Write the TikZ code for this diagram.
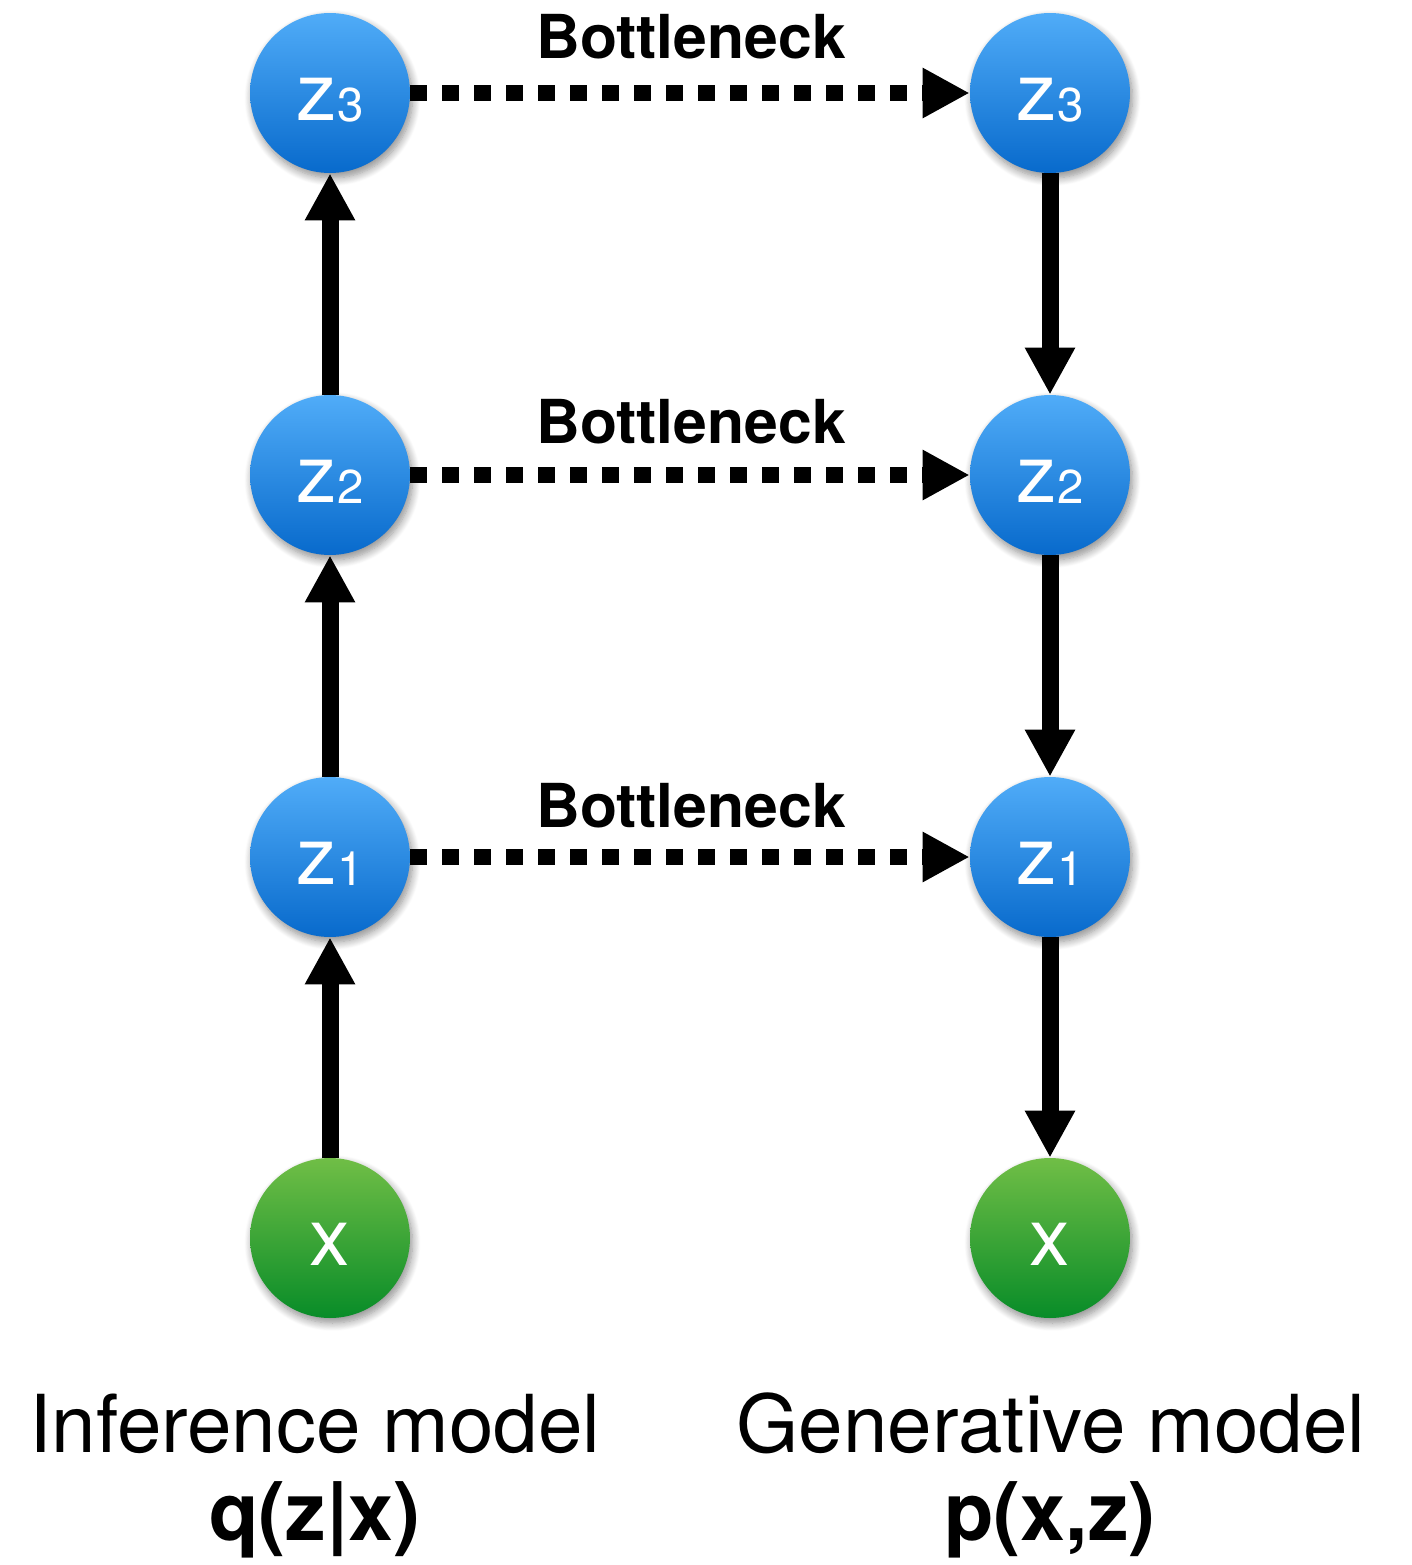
\documentclass[tikz,border=0pt]{standalone}
\usepackage{fontspec}
\setmainfont{TeX Gyre Heros}
\usetikzlibrary{arrows.meta,shadows.blur}

\definecolor{blueTop}{RGB}{80,172,248}
\definecolor{blueBot}{RGB}{8,106,204}
\definecolor{greenTop}{RGB}{112,190,70}
\definecolor{greenBot}{RGB}{8,140,40}

\tikzset{
  ball/.style={circle, minimum size=3.2cm, inner sep=0pt, draw=none,
    blur shadow={shadow xshift=0.05cm, shadow yshift=-0.1cm,
      shadow opacity=45, shadow blur radius=0.16cm, shadow blur steps=10}},
  latent/.style={ball, top color=blueTop, bottom color=blueBot},
  observed/.style={ball, top color=greenTop, bottom color=greenBot},
  balltext/.style={text=white, inner sep=0pt, anchor=base,
    font=\fontsize{46}{50}\selectfont},
  flow/.style={line width=0.34cm, line cap=butt,
    -{Triangle[length=0.94cm, width=0.94cm]}},
  skip/.style={line width=0.31cm, line cap=butt, dash pattern=on 0.34cm off 0.30cm,
    -{Triangle[length=0.94cm, width=0.94cm]}},
  neck/.style={inner sep=0pt, anchor=base west,
    font=\fontsize{34.5}{38}\selectfont\bfseries},
  caption/.style={inner sep=0pt, anchor=base,
    font=\fontsize{45.5}{50}\selectfont},
  formula/.style={inner sep=0pt, anchor=base,
    font=\fontsize{46}{50}\selectfont\bfseries},
}
\newcommand{\zsub}[1]{z\raisebox{-1pt}{\fontsize{27}{30}\selectfont #1}}

\begin{document}
\begin{tikzpicture}[x=0.02cm, y=-0.02cm]
  \useasboundingbox (0,0) rectangle (1411,1565);

  % inference column
  \node[latent]   (qz3) at (330,93)   {};
  \node[latent]   (qz2) at (330,475)  {};
  \node[latent]   (qz1) at (330,857)  {};
  \node[observed] (qx)  at (330,1238) {};
  % generative column
  \node[latent]   (pz3) at (1050,93)   {};
  \node[latent]   (pz2) at (1050,475)  {};
  \node[latent]   (pz1) at (1050,857)  {};
  \node[observed] (px)  at (1050,1238) {};

  % labels inside the circles
  \node[balltext] (tqz3) at (330,120)  {\zsub{3}};
  \node[balltext] (tqz2) at (330,502)  {\zsub{2}};
  \node[balltext] (tqz1) at (330,884)  {\zsub{1}};
  \node[balltext] (tqx)  at (330,1265) {x};
  \node[balltext] (tpz3) at (1050,120)  {\zsub{3}};
  \node[balltext] (tpz2) at (1050,502)  {\zsub{2}};
  \node[balltext] (tpz1) at (1050,884)  {\zsub{1}};
  \node[balltext] (tpx)  at (1050,1265) {x};

  % encoder: bottom-up
  \draw[flow] (qx)  -- (qz1);
  \draw[flow] (qz1) -- (qz2);
  \draw[flow] (qz2) -- (qz3);
  % decoder: top-down
  \draw[flow] (pz3) -- (pz2);
  \draw[flow] (pz2) -- (pz1);
  \draw[flow] (pz1) -- (px);

  % bottleneck links
  \draw[skip] (qz3) -- (pz3);
  \draw[skip] (qz2) -- (pz2);
  \draw[skip] (qz1) -- (pz1);
  \node[neck] (b3) at (536,58)  {Bottleneck};
  \node[neck] (b2) at (536,443) {Bottleneck};
  \node[neck] (b1) at (536,827) {Bottleneck};

  % captions
  \node[caption] (capq) at (315,1452)  {Inference model};
  \node[formula] (frmq) at (315,1540)  {q(z|x)};
  \node[caption] (capp) at (1051,1452) {Generative model};
  \node[formula] (frmp) at (1050,1540) {p(x,z)};
\end{tikzpicture}
\end{document}
